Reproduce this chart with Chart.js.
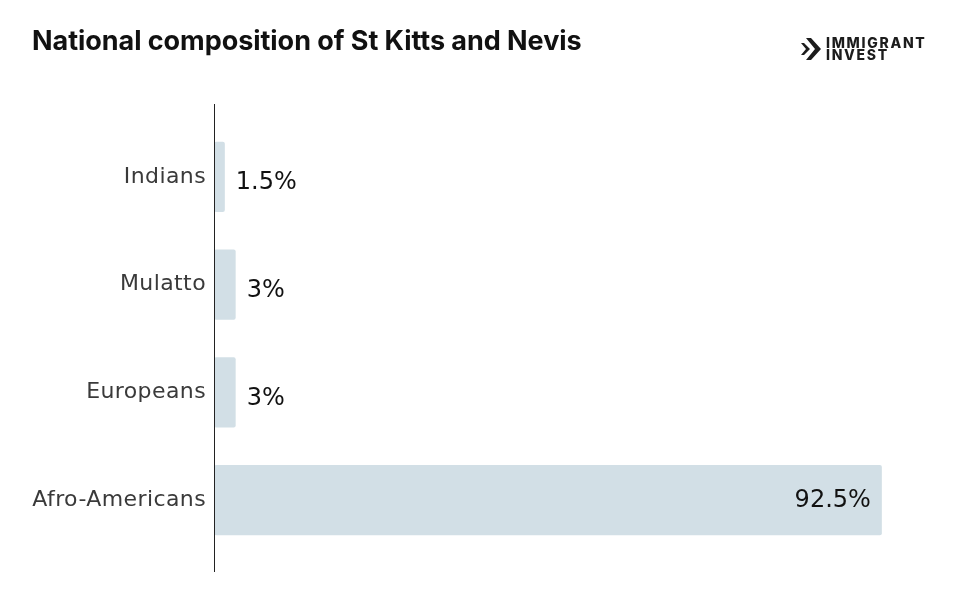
<!DOCTYPE html>
<html>
<head>
<meta charset="utf-8">
<script src="https://cdn.jsdelivr.net/npm/chart.js@4/dist/chart.umd.min.js"></script>
<style>
  html, body { margin: 0; padding: 0; background: #fff; }
  #wrap { position: relative; width: 964px; height: 593px; }
  #title { position: absolute; left: 32px; top: 24px; font-family: Inter, "Open Sans", sans-serif; font-weight: 700; font-size: 27px; color: #111; letter-spacing: -0.05px; white-space: nowrap; }
  #logo { position: absolute; left: 800px; top: 37px; display: flex; align-items: center; }
  #logo .txt { font-family: Inter, "Open Sans", sans-serif; font-weight: 800; font-size: 14px; line-height: 12px; color: #1c1c1c; margin-left: 5px; letter-spacing: 1.7px; }
  canvas { position: absolute; left: 0; top: 0; }
</style>
</head>
<body>
<div id="wrap">
  <canvas id="c" width="964" height="593"></canvas>
  <div id="title">National composition of St Kitts and Nevis</div>
  <div id="logo">
    <svg width="21" height="22" viewBox="0 0 21 22"><path d="M6 0 L11 0 L21 11 L11 22 L6 22 L15 11 Z" fill="#1c1c1c"/><path d="M1 5 L4 5 L10 11 L4 17 L1 17 L6 11 Z" fill="#1c1c1c"/></svg>
    <div class="txt">IMMIGRANT<br>INVEST</div>
  </div>
</div>
<script>
const categories = ["Indians", "Mulatto", "Europeans", "Afro-Americans"];
const shares = [1.5, 3, 3, 92.5];
const valueLabels = ["1.5%", "3%", "3%", "92.5%"];

const spacing = {
  id: 'spacing',
  beforeDraw(chart) { chart.ctx.letterSpacing = '0.4px'; }
};

const axisLine = {
  id: 'axisLine',
  afterDraw(chart) {
    const ctx = chart.ctx, a = chart.chartArea;
    const x = Math.round(chart.scales.x.left) + 0.5;
    ctx.save();
    ctx.strokeStyle = '#222';
    ctx.lineWidth = 1;
    ctx.beginPath();
    ctx.moveTo(x, a.top - 19);
    ctx.lineTo(x, a.bottom + 18);
    ctx.stroke();
    ctx.restore();
  }
};

const valueLabelPlugin = {
  id: 'valueLabels',
  afterDatasetsDraw(chart) {
    const ctx = chart.ctx;
    const meta = chart.getDatasetMeta(0);
    ctx.save();
    ctx.letterSpacing = '0px';
    ctx.font = '24px "DejaVu Sans", Verdana, sans-serif';
    ctx.fillStyle = '#111';
    ctx.textBaseline = 'middle';
    meta.data.forEach((bar, i) => {
      const v = shares[i];
      if (v > 50) {
        ctx.textAlign = 'right';
        ctx.fillText(valueLabels[i], bar.x - 11, bar.y + 1);
      } else {
        ctx.textAlign = 'left';
        ctx.fillText(valueLabels[i], bar.x + 11, bar.y + 6);
      }
    });
    ctx.restore();
  }
};

new Chart(document.getElementById('c'), {
  type: 'bar',
  data: {
    labels: categories,
    datasets: [{
      data: shares,
      backgroundColor: '#d2dfe6',
      borderRadius: 2,
      borderSkipped: false,
      barPercentage: 0.65,
      categoryPercentage: 1.0
    }]
  },
  options: {
    indexAxis: 'y',
    responsive: false,
    animation: false,
    layout: { padding: { top: 123, bottom: 39, left: 0, right: 28 } },
    plugins: { legend: { display: false }, tooltip: { enabled: false } },
    scales: {
      x: { display: false, min: 0, max: 100 },
      y: {
        grid: { display: false, drawTicks: false },
        border: { display: false },
        afterFit(scale) { scale.width = 214; },
        ticks: {
          padding: 8,
          color: '#3a3a3a',
          font: { family: '"DejaVu Sans", sans-serif', size: 22, weight: '400' }
        }
      }
    }
  },
  plugins: [spacing, axisLine, valueLabelPlugin]
});
</script>
</body>
</html>
